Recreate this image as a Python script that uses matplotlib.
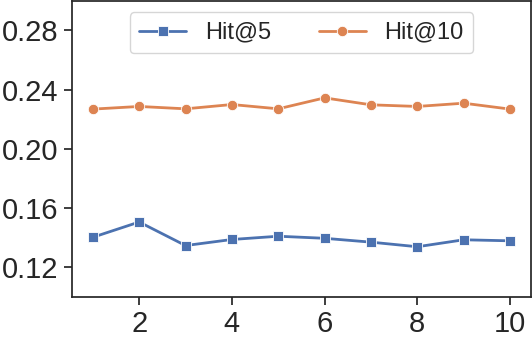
import matplotlib
matplotlib.use("Agg")
import matplotlib.pyplot as plt
import seaborn as sns

# 数据
epochs = [1, 2, 3, 4, 5, 6, 7, 8, 9, 10]
hit5 = [0.1403, 0.1506, 0.1347, 0.1388, 0.1410, 0.1396, 0.1370, 0.1339, 0.1386, 0.1379]
hit10 = [0.2268, 0.2286, 0.2270, 0.2299, 0.2270, 0.2344, 0.2297, 0.2286, 0.2308, 0.2268]
yticks = [0.12, 0.16, 0.20, 0.24, 0.28]
xticks = [2, 4, 6, 8, 10]

sns.set_theme(style="ticks", palette="deep")
plt.rcParams['font.family'] = ['Liberation Sans', 'DejaVu Sans']

colors = sns.color_palette("deep")

fig = plt.figure(figsize=(5.32, 3.39), dpi=100)
ax = fig.add_axes([0.1353, 0.124, 0.8627, 0.874])

ax.plot(epochs, hit5, marker="s", markersize=7, linewidth=2, color=colors[0],
        markeredgecolor="white", markeredgewidth=0.6, label="Hit@5")
ax.plot(epochs, hit10, marker="o", markersize=7.5, linewidth=2, color=colors[1],
        markeredgecolor="white", markeredgewidth=0.6, label="Hit@10")

ax.set_ylim(0.10, 0.30)
ax.set_xlim(0.55, 10.45)
ax.set_yticks(yticks)
ax.set_yticklabels([f"{v:.2f}" for v in yticks])
ax.set_xticks(xticks)
ax.tick_params(labelsize=21)

ax.legend(loc="upper center", ncol=2, fontsize=17, bbox_to_anchor=(0.5, 1.0),
          columnspacing=2.0, handlelength=2.0)

fig.savefig("out.png", dpi=100)
